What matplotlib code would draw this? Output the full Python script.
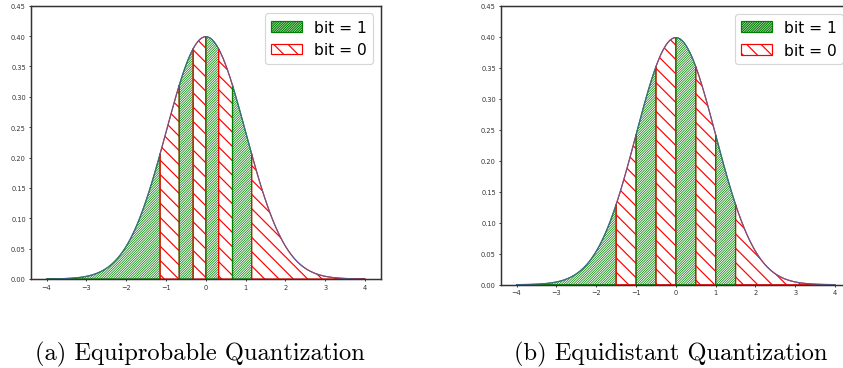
import numpy as np
import matplotlib
matplotlib.use("Agg")
import matplotlib.pyplot as plt

# Quantization boundaries for a standard normal source (3-bit, 8 cells)
equiprobable_edges = [-1.15, -0.67, -0.32, 0.0, 0.32, 0.67, 1.15]
equidistant_edges = [-1.5, -1.0, -0.5, 0.0, 0.5, 1.0, 1.5]
# bit assigned to each cell, left to right
cell_bits = [1, 0, 1, 0, 1, 0, 1, 0]
x_range = [-4.0, 4.0]
y_ticks = [0.00, 0.05, 0.10, 0.15, 0.20, 0.25, 0.30, 0.35, 0.40, 0.45]
x_ticks = [-4, -3, -2, -1, 0, 1, 2, 3, 4]
captions = ["(a) Equiprobable Quantization", "(b) Equidistant Quantization"]

DPI = 86

styles = {
    1: dict(edgecolor="green", hatch="/" * 12, hlw=0.6, label="bit = 1"),
    0: dict(edgecolor="red", hatch="\\" * 2, hlw=1.0, label="bit = 0"),
}


def pdf(x):
    return np.exp(-0.5 * x ** 2) / np.sqrt(2 * np.pi)


def draw_panel(ax, edges):
    bounds = [x_range[0]] + list(edges) + [x_range[1]]
    seen = {}
    for i, bit in enumerate(cell_bits):
        xs = np.linspace(bounds[i], bounds[i + 1], 200)
        st = styles[bit]
        with plt.rc_context({"hatch.linewidth": st["hlw"]}):
            h = ax.fill_between(xs, pdf(xs), 0, facecolor="none",
                                edgecolor=st["edgecolor"], hatch=st["hatch"],
                                linewidth=1.0)
        if bit not in seen:
            seen[bit] = h
    xx = np.linspace(x_range[0], x_range[1], 800)
    ax.plot(xx, pdf(xx), color="#4a68a8", linewidth=0.9, alpha=0.9)
    ax.set_xlim(-4.4, 4.4)
    ax.set_ylim(0, 0.45)
    ax.set_yticks(y_ticks)
    ax.set_yticklabels([f"{v:.2f}" for v in y_ticks])
    ax.set_xticks(x_ticks)
    ax.tick_params(labelsize=5.6, length=2, width=0.8, colors="#333333",
                   pad=2)
    for s in ax.spines.values():
        s.set_linewidth(1.25)
        s.set_color("#333333")
    ax.legend([seen[1], seen[0]], [styles[1]["label"], styles[0]["label"]],
              loc="upper right", fontsize=13)


fig = plt.figure(figsize=(843 / DPI, 369 / DPI), dpi=DPI)
ax1 = fig.add_axes([30.7 / 843, 1 - 280 / 369, 350.3 / 843, 273.3 / 369])
ax2 = fig.add_axes([500.7 / 843, 1 - 285.7 / 369, 350.3 / 843, 278.7 / 369])
draw_panel(ax1, equiprobable_edges)
draw_panel(ax2, equidistant_edges)

fig.text(200 / 843, 1 - 354 / 369, captions[0], family="cmr10",
         fontsize=20.5, ha="center", va="center")
fig.text(671 / 843, 1 - 354 / 369, captions[1], family="cmr10",
         fontsize=20.5, ha="center", va="center")

fig.savefig("out.png", dpi=DPI)
